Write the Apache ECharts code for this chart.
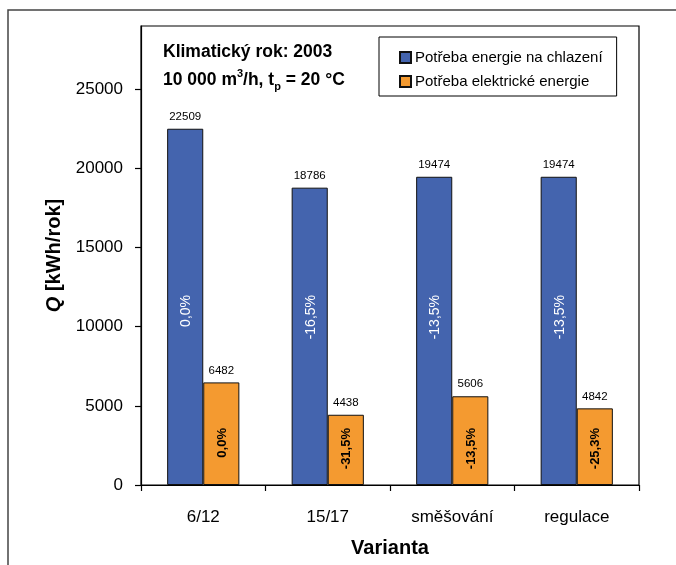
<!DOCTYPE html>
<html>
<head>
<meta charset="utf-8">
<script src="https://cdn.jsdelivr.net/npm/echarts@6/dist/echarts.min.js"></script>
<style>
  html, body { margin: 0; padding: 0; background: #fff; }
  #chart { width: 676px; height: 565px; }
</style>
</head>
<body>
<div id="chart"></div>
<script>
// Variants of the cooling system
const categories = ['6/12', '15/17', 'směšování', 'regulace'];
// Annual energy demand, kWh/rok
const coolingDemand = [22509, 18786, 19474, 19474];
const electricDemand = [6482, 4438, 5606, 4842];
// Relative change against the 6/12 variant
const coolingChange = ['0,0%', '-16,5%', '-13,5%', '-13,5%'];
const electricChange = ['0,0%', '-31,5%', '-13,5%', '-25,3%'];
// Y axis tick values
const yTicks = [0, 5000, 10000, 15000, 20000, 25000];

const seriesNames = ['Potřeba energie na chlazení', 'Potřeba elektrické energie'];
const BLUE = '#4464AE';
const ORANGE = '#F49A30';
const FONT = '"Liberation Sans", Arial, sans-serif';
const BAR_SHARE = 0.58; // part of a category band filled by the bar pair

const chart = echarts.init(document.getElementById('chart'), null, { renderer: 'canvas' });

// Rotated percentage text placed inside each bar
function changeLabel(texts, side, dist, color, weight, size) {
  return function (params, api) {
    const idx = api.value(0);
    const base = api.coord([idx, 0]);
    const band = api.size([1, 0])[0];
    const bw = band * BAR_SHARE / 2;
    return {
      type: 'text',
      x: base[0] + side * bw / 2 + 1,
      y: base[1] - dist,
      rotation: Math.PI / 2,
      style: {
        text: texts[params.dataIndex],
        fill: color,
        font: weight + ' ' + size + 'px ' + FONT,
        align: 'right',
        verticalAlign: 'middle'
      },
      z2: 10
    };
  };
}

const option = {
  backgroundColor: '#fff',
  animation: false,
  textStyle: { fontFamily: FONT, color: '#000' },
  grid: {
    left: 141, top: 26, right: 37, bottom: 80,
    show: true, borderColor: '#000', borderWidth: 1.2, backgroundColor: 'transparent'
  },
  legend: {
    data: seriesNames,
    orient: 'vertical',
    left: 379, top: 37,
    padding: [13, 14, 7, 20],
    itemGap: 9,
    itemWidth: 11, itemHeight: 11,
    icon: 'rect',
    borderColor: '#000', borderWidth: 1,
    backgroundColor: '#fff',
    textStyle: { fontSize: 15, color: '#000', fontFamily: FONT, padding: [0, 0, 0, -1] }
  },
  xAxis: {
    type: 'category',
    data: categories,
    name: 'Varianta',
    nameLocation: 'middle',
    nameGap: 53,
    nameTextStyle: { fontSize: 20, fontWeight: 'bold', color: '#000', fontFamily: FONT },
    axisLine: { show: true, lineStyle: { color: '#000', width: 1.2 } },
    axisTick: { show: true, length: 6, lineStyle: { color: '#000', width: 1.2 } },
    axisLabel: { fontSize: 17, color: '#000', margin: 24, fontFamily: FONT },
    splitLine: { show: false }
  },
  yAxis: {
    type: 'value',
    min: 0, max: 29000,
    name: '{q|Q} [kWh/rok]',
    nameLocation: 'middle',
    nameGap: 72,
    nameRotate: 90,
    nameTextStyle: {
      fontSize: 20, fontWeight: 'bold', color: '#000', fontFamily: FONT,
      rich: { q: { fontSize: 20, fontWeight: 'bold', fontStyle: 'italic', fontFamily: FONT, color: '#000' } }
    },
    axisLine: { show: true, lineStyle: { color: '#000', width: 1.2 } },
    axisTick: { show: true, length: 6, customValues: yTicks, lineStyle: { color: '#000', width: 1.2 } },
    axisLabel: {
      fontSize: 17, color: '#000', margin: 18, customValues: yTicks, fontFamily: FONT,
      formatter: (v) => String(v)
    },
    splitLine: { show: false }
  },
  series: [
    {
      name: seriesNames[0],
      type: 'bar',
      data: coolingDemand,
      barGap: '0%',
      barCategoryGap: ((1 - BAR_SHARE) * 100) + '%',
      itemStyle: { color: BLUE, borderColor: '#111', borderWidth: 1 },
      label: { show: true, position: 'top', distance: 6, fontSize: 11.5, color: '#000', fontFamily: FONT }
    },
    {
      name: seriesNames[1],
      type: 'bar',
      data: electricDemand,
      barGap: '0%',
      barCategoryGap: ((1 - BAR_SHARE) * 100) + '%',
      itemStyle: { color: ORANGE, borderColor: '#111', borderWidth: 1 },
      label: { show: true, position: 'top', distance: 6, fontSize: 11.5, color: '#000', fontFamily: FONT }
    },
    {
      type: 'custom',
      data: categories.map((c, i) => [i, 0]),
      renderItem: changeLabel(coolingChange, -1, 190, '#fff', 'normal', 14),
      silent: true, z: 5
    },
    {
      type: 'custom',
      data: categories.map((c, i) => [i, 0]),
      renderItem: changeLabel(electricChange, 1, 57, '#000', 'bold', 13),
      silent: true, z: 5
    }
  ],
  graphic: [
    {
      type: 'rect',
      shape: { x: 8, y: 10, width: 720, height: 620 },
      style: { fill: 'none', stroke: '#444', lineWidth: 1.5 },
      silent: true, z: -10
    },
    {
      type: 'text',
      x: 163, y: 52,
      style: {
        text: 'Klimatický rok: 2003',
        font: 'bold 17.5px ' + FONT,
        fill: '#000',
        verticalAlign: 'middle'
      }
    },
    {
      type: 'text',
      x: 163, y: 80,
      style: {
        text: '{b|10 000 m}{sup|3}{b|/h, t}{sub|p}{b| = 20 °C}',
        verticalAlign: 'middle',
        rich: {
          b: { font: 'bold 17.5px ' + FONT, fill: '#000', lineHeight: 24, verticalAlign: 'middle' },
          sup: { font: 'bold 11px ' + FONT, fill: '#000', lineHeight: 24, verticalAlign: 'top' },
          sub: { font: 'bold 11px ' + FONT, fill: '#000', lineHeight: 24, verticalAlign: 'bottom' }
        }
      }
    }
  ]
};

chart.setOption(option);
</script>
</body>
</html>
